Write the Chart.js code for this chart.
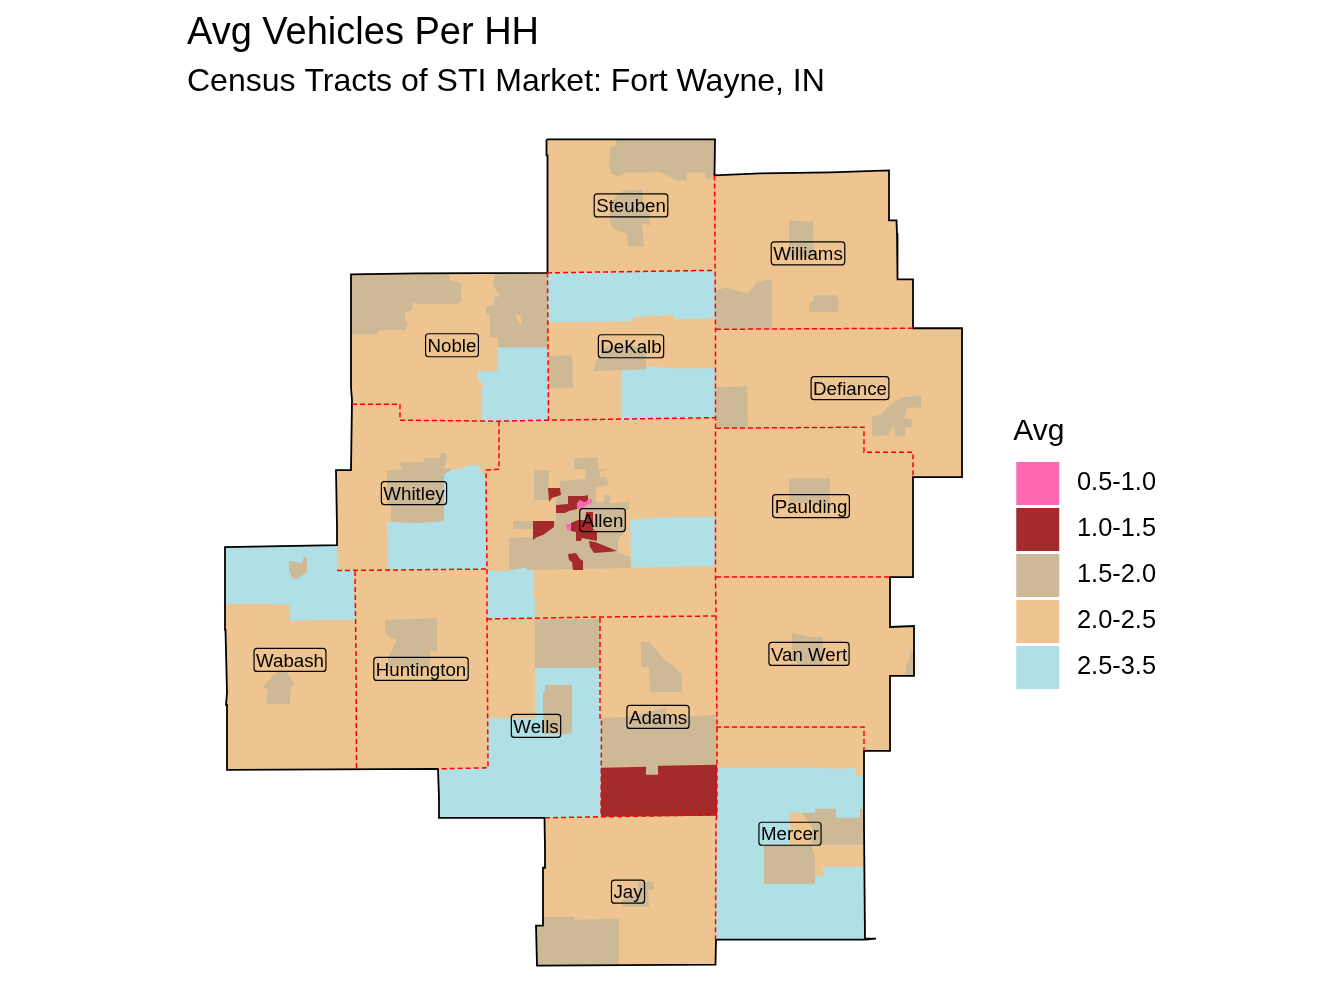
<!DOCTYPE html>
<html>
<head>
<meta charset="utf-8">
<title>Avg Vehicles Per HH</title>
<script src="https://cdn.jsdelivr.net/npm/chart.js@4"></script>
<style>
  html, body { margin: 0; padding: 0; background: #fff; }
  canvas { display: block; }
</style>
</head>
<body>
<canvas id="map" width="1344" height="1008"></canvas>
<script>
// ══════════════════════════════════════════════
//  Census tract map
//  Coordinates are map units (x right, y down)
// ══════════════════════════════════════════════

// ── Data ───────────────────────────────────
var classLabels = ['0.5-1.0', '1.0-1.5', '1.5-2.0', '2.0-2.5', '2.5-3.5'];
var classColors = ['#FF69B4', '#A52A2A', '#CDB996', '#EEC591', '#B0DFE5'];

var countyNames = ['Steuben', 'Noble', 'DeKalb', 'Williams', 'Defiance', 'Allen', 'Whitley', 'Wabash',
  'Huntington', 'Wells', 'Adams', 'Mercer', 'Jay', 'Paulding', 'Van Wert'];
var countyX = [631, 452, 631, 808, 850, 602.5, 414, 290, 421, 536, 658, 790, 628, 811, 809];
var countyY = [205, 345, 346, 253, 388, 520, 493, 660, 669, 726, 717, 834, 892, 506, 654];

var marketOutline = [[[546.5,139],[715,139],[714.5,175],[760,173],[830,172],[889,170],[889,220],[896.5,220],[897,233],
  [897.5,279],[913,279],[913,328],[962,328],[962,477],[913,477],[913,577],[890,577],[890,627],[914,626],[914,676],
  [890,676],[890,751],[864,751],[864,825],[865,939],[876,939],[865,940],[716,940],[715.5,965],[537,966],[536,926],
  [543,926],[543,868],[545,868],[545,850],[544.5,818],[439,818],[439,798],[438,769],[227,770],[227,705],[226,705],
  [227,693],[225.5,630],[225,547],[337,545],[337,527],[336,470],[351,470],[352,400],[351,387],[351,274],[418,273],
  [547,272.5],[547.5,155],[546.5,155],[546.5,139]]];

var countyLines = [
  [[714.5,175],[715.5,328],[715.5,428],[715.5,577],[716,617],[717,726],[717,816],[716,820],[715.5,940]],
  [[547,272.5],[715,270]],
  [[547.5,272],[548.5,420]],
  [[352,404],[400,404],[400,420],[498,421],[548,420],[715,417.5]],
  [[499,421],[499,469],[486,470],[486,480],[487,569],[487,618],[488,768],[438,769]],
  [[337,570.5],[487,569]],
  [[355,571],[356,657],[356.5,769]],
  [[487,619],[600,617],[716,616]],
  [[600,618],[600,718],[601.5,718],[601,817]],
  [[545,818],[717,815]],
  [[716,428],[864,427],[864,452],[913,452],[913,477]],
  [[716,329],[913,328]],
  [[716,577],[890,577]],
  [[716,727],[864,727],[864,751]]
];

var blueTracts = [
  [[498,347],[548,347],[548,421],[482,421],[482,387],[484,385],[477,378],[477,371],[498,371]],
  [[548,273],[715,271],[715,318],[675,319],[673,315],[633,317],[632,321],[548,322]],
  [[621,370],[647,366],[673,368],[715,368],[715,417],[622,420]],
  [[452,469],[463,468],[468,465],[479,465],[482,472],[486,480],[487,569],[397,570],[388,568],[387,522],[391,522],[420,523],[444,521],[444,474]],
  [[225,547],[337,545],[337,570],[354,570],[355,620],[323,620],[290,621],[290,605],[263,604],[225,604]],
  [[630,520],[647,518],[672,517],[710,517],[715,516],[715,566],[702,566],[660,567],[631,568]],
  [[487,571],[508,571],[517,568],[525,568],[528,570],[534,570],[534,597],[535,598],[535,618],[487,618]],
  [[535,668],[600,668],[600,718],[601,718],[601,817],[545,818],[439,818],[439,798],[438,769],[487,768],[487,718],[535,718]],
  [[717,768],[817,768],[836,769],[856,768],[856,776],[864,776],[865,939],[817,940],[716,940]]
];

var tanPatches = [
  [[790,813],[802,813],[812,827],[812,845],[865,845],[865,867],[823,867],[823,876],[815,876],[813,853],[812,845],[790,845]]
];

var tan2Tracts = [
  [[616,139],[715,139],[715,178],[707,179],[705,172],[687,172],[687,180],[677,180],[663,173],[654,171],[650,172],[627,172],[618,176],[611,173],[609,163],[610,147],[616,145]],
  [[623,190],[643,189],[643,202],[650,210],[650,225],[642,223],[644,246],[628,246],[627,234],[614,229],[610,223],[610,202]],
  [[351,274],[449,273],[450,280],[461,283],[461,300],[457,304],[418,304],[413,302],[412,310],[405,312],[405,320],[408,323],[406,330],[380,330],[376,334],[351,334]],
  [[495,273],[547,273],[548,347],[498,347],[498,337],[490,337],[490,314],[486,314],[486,306],[494,305],[494,297],[500,296],[495,288],[493,283]],
  [[549,356],[572,355],[573,388],[549,388]],
  [[598,357],[607,346],[646,346],[646,369],[593,371]],
  [[789,220],[813,221],[814,257],[789,257]],
  [[716,290],[727,287],[742,292],[748,293],[757,282],[772,279],[772,328],[716,328]],
  [[814,295],[836,295],[839,299],[838,312],[809,312],[809,304],[814,300]],
  [[716,387],[747,386],[748,427],[716,427]],
  [[902,397],[921,395],[921,407],[907,408],[904,418],[912,419],[912,427],[905,427],[905,436],[895,436],[894,425],[888,435],[872,436],[872,416],[881,414],[892,403]],
  [[789,478],[830,478],[830,503],[789,503]],
  [[792,633],[802,635],[810,637],[823,637],[823,664],[799,664],[792,660]],
  [[910,651],[914,651],[914,676],[906,676],[906,665],[909,660]],
  [[399,462],[423,462],[424,458],[440,458],[440,453],[447,453],[447,459],[444,468],[452,469],[444,474],[444,521],[420,523],[391,522],[391,504],[387,504],[387,470],[402,469]],
  [[289,561],[302,563],[304,557],[307,557],[307,572],[297,579],[292,578],[289,570]],
  [[280,671],[287,671],[288,675],[295,684],[291,687],[290,704],[266,704],[268,690],[263,687],[273,675]],
  [[385,620],[437,618],[437,652],[430,650],[430,667],[388,667],[388,657],[397,640],[390,638],[385,633]],
  [[574,458],[598,457],[598,469],[607,469],[600,472],[600,477],[607,477],[608,485],[596,487],[596,502],[604,502],[604,495],[610,495],[610,503],[629,502],[629,510],[626,510],[626,530],[618,540],[618,552],[630,557],[631,568],[528,570],[525,568],[509,570],[509,538],[533,537],[533,529],[513,529],[513,521],[556,521],[556,496],[560,495],[560,481],[586,479],[586,469],[574,469]],
  [[534,470],[549,470],[548,500],[534,500]],
  [[535,619],[600,619],[600,668],[535,668]],
  [[545,685],[572,685],[572,734],[543,734],[543,693],[545,692]],
  [[641,642],[649,642],[663,658],[682,674],[682,692],[650,692],[649,667],[641,667]],
  [[602,718],[627,717],[657,710],[666,708],[666,717],[717,715],[717,765],[692,765],[658,766],[658,775],[646,775],[646,767],[608,767],[602,768]],
  [[802,813],[815,813],[815,809],[836,809],[836,818],[860,818],[860,809],[864,809],[865,845],[812,845],[812,827]],
  [[764,845],[812,845],[813,853],[815,857],[815,884],[764,884]],
  [[638,882],[654,882],[654,890],[648,890],[649,907],[622,907],[622,900],[638,895]],
  [[543,917],[575,917],[575,920],[619,919],[619,965],[537,966],[537,926],[543,926]]
];

var tanHoles = [
  [[515,314],[520,315],[522,325],[518,322]]
];

var brownTracts = [
  [[548,488],[560,488],[561,495],[552,498],[549,502]],
  [[556,505],[568,504],[568,496],[584,496],[588,495],[588,500],[580,508],[577,509],[569,511],[565,513],[556,513]],
  [[533,521],[554,521],[554,527],[543,535],[537,537],[533,540]],
  [[571,523],[578,520],[585,520],[586,512],[593,512],[593,529],[597,533],[597,541],[582,538],[581,541],[576,541],[576,532],[571,531]],
  [[589,541],[595,542],[605,546],[617,551],[608,552],[594,553],[590,547]],
  [[568,554],[576,553],[580,559],[583,561],[583,570],[573,570],[572,562],[569,560]],
  [[601,768],[646,767],[646,775],[658,775],[658,766],[717,765],[717,816],[601,817]]
];

var pinkTracts = [
  [[577,503],[580,500],[584,502],[588,502],[588,499],[592,499],[592,503],[587,505],[583,508],[577,509]],
  [[566,524],[571,524],[571,531],[567,530]]
];

// ── Helpers ────────────────────────────────
function toPoints(coords) {
  return coords.map(function(c) { return { x: c[0], y: c[1] }; });
}

function fillSets(polys, color) {
  return polys.map(function(p) {
    return {
      data: toPoints(p.concat([p[0]])),
      showLine: true,
      fill: 'shape',
      backgroundColor: color,
      borderWidth: 0,
      pointRadius: 0,
      tension: 0
    };
  });
}

function lineSets(lines, color, width, dash) {
  return lines.map(function(l) {
    return {
      data: toPoints(l),
      showLine: true,
      fill: false,
      borderColor: color,
      borderWidth: width,
      borderDash: dash,
      pointRadius: 0,
      tension: 0
    };
  });
}

// first dataset ends up on top, so build bottom-up and flip
var datasets = [].concat(
  fillSets(marketOutline, classColors[3]),
  fillSets(blueTracts, classColors[4]),
  fillSets(tanPatches, classColors[3]),
  fillSets(tan2Tracts, classColors[2]),
  fillSets(tanHoles, classColors[3]),
  fillSets(brownTracts, classColors[1]),
  fillSets(pinkTracts, classColors[0]),
  lineSets(marketOutline, '#000000', 1.8, []),
  lineSets(countyLines, '#FF0000', 1.5, [5, 3])
).reverse();

// ── County labels ──────────────────────────
var countyLabelPlugin = {
  id: 'countyLabels',
  afterDatasetsDraw: function(chart) {
    var ctx = chart.ctx;
    ctx.save();
    ctx.font = '18.7px "Liberation Sans"';
    ctx.textAlign = 'center';
    ctx.textBaseline = 'middle';
    ctx.lineWidth = 1.2;
    ctx.strokeStyle = '#000';
    ctx.fillStyle = '#000';
    countyNames.forEach(function(name, i) {
      var px = chart.scales.x.getPixelForValue(countyX[i]);
      var py = chart.scales.y.getPixelForValue(countyY[i]);
      var w = ctx.measureText(name).width + 4;
      ctx.beginPath();
      ctx.roundRect(px - w / 2, py - 11.5, w, 23, 3);
      ctx.stroke();
      ctx.fillText(name, px, py + 1.5);
    });
    ctx.restore();
  }
};

// ── Chart ──────────────────────────────────
var chart = new Chart(document.getElementById('map'), {
  type: 'scatter',
  data: { datasets: datasets },
  plugins: [countyLabelPlugin],
  options: {
    responsive: false,
    animation: false,
    events: [],
    layout: { padding: { left: 187, right: 183 } },
    scales: {
      x: { display: false, type: 'linear' },
      y: { display: false, type: 'linear', reverse: true }
    },
    plugins: {
      tooltip: { enabled: false },
      title: {
        display: true,
        text: 'Avg Vehicles Per HH',
        align: 'start',
        fullSize: false,
        color: '#000',
        font: { family: 'Liberation Sans', size: 38, weight: 'normal' },
        padding: { top: 10.5, bottom: 7.2 }
      },
      subtitle: {
        display: true,
        text: 'Census Tracts of STI Market: Fort Wayne, IN',
        align: 'start',
        fullSize: false,
        color: '#000',
        font: { family: 'Liberation Sans', size: 32, weight: 'normal' },
        padding: { top: 0, bottom: 0 }
      },
      legend: {
        position: 'right',
        fullSize: false,
        title: {
          display: true,
          text: 'Avg',
          position: 'start',
          color: '#000',
          font: { family: 'Liberation Sans', size: 30 },
          padding: { top: 0, bottom: 6 }
        },
        labels: {
          boxWidth: 43,
          boxHeight: 43,
          padding: 3,
          color: '#000',
          textAlign: 'center',
          font: { family: 'Liberation Sans', size: 25.4 },
          generateLabels: function() {
            return classLabels.map(function(label, i) {
              return { text: label, fillStyle: classColors[i], strokeStyle: classColors[i], lineWidth: 0, hidden: false };
            });
          }
        }
      }
    }
  }
});

// make one map unit equal one pixel of the plot area (half a pixel down, as in the picture)
var area = chart.chartArea;
chart.options.scales.x.min = area.left;
chart.options.scales.x.max = area.right;
chart.options.scales.y.min = area.top - 0.5;
chart.options.scales.y.max = area.bottom - 0.5;
chart.update('none');
</script>
</body>
</html>
